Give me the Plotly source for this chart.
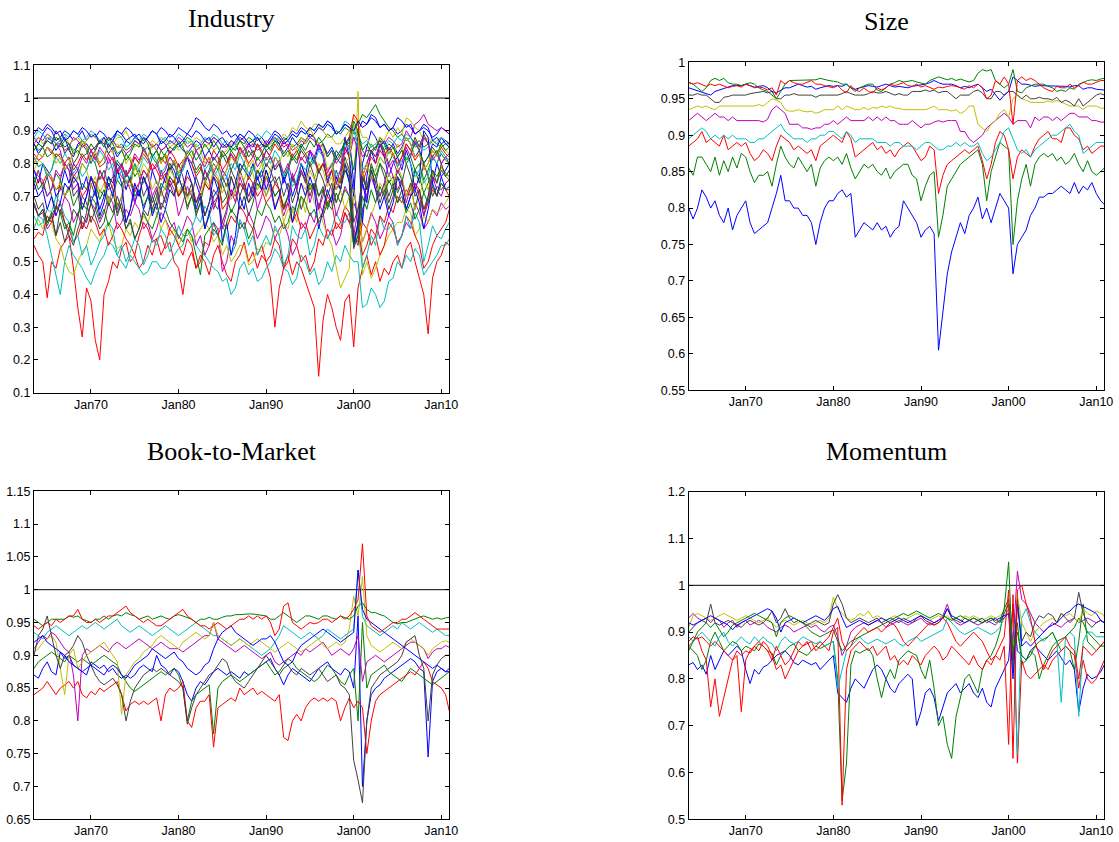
import pandas as pd
import plotly.graph_objects as go

# ---------------- time axis (semi-annual observations, last one Dec 2010) ----------------
half_year_dates = list(pd.date_range("1963-07-01", "2010-07-01", freq="6MS")) + [pd.Timestamp("2010-12-01")]

x_tick_dates = ["1970-01-01", "1980-01-01", "1990-01-01", "2000-01-01", "2010-01-01"]
x_tick_labels = ["Jan70", "Jan80", "Jan90", "Jan00", "Jan10"]

panel_titles = ["Industry", "Size", "Book-to-Market", "Momentum"]

# MATLAB default colour order
blue, green, red, cyan, magenta, yellow, gray = "#0000FF", "#008000", "#FF0000", "#00BFBF", "#BF00BF", "#BFBF00", "#404040"
color_cycle = [blue, green, red, cyan, magenta, yellow, gray]

# ---------------- Size (10 portfolios) ----------------
size_1 = [0.80,
          0.785, 0.80, 0.825, 0.815, 0.80, 0.81, 0.79, 0.78, 0.80, 0.77, 0.79, 0.80,
          0.81, 0.78, 0.765, 0.77, 0.775, 0.78, 0.80, 0.82, 0.845, 0.81, 0.81, 0.80, 0.80, 0.79, 0.79, 0.78, 0.75, 0.78, 0.80, 0.81,
          0.81, 0.82, 0.825, 0.815, 0.82, 0.76, 0.77, 0.78, 0.775, 0.77, 0.78, 0.77, 0.775, 0.76, 0.77, 0.775, 0.81, 0.80, 0.79, 0.78,
          0.76, 0.77, 0.775, 0.765, 0.605, 0.66, 0.71, 0.74, 0.76, 0.78, 0.765, 0.79, 0.80, 0.815, 0.785, 0.80, 0.78, 0.80, 0.82, 0.81,
          0.80, 0.71, 0.75, 0.76, 0.77, 0.79, 0.80, 0.815, 0.815, 0.82, 0.82, 0.825, 0.83, 0.825, 0.82, 0.835, 0.82, 0.83, 0.825, 0.835,
          0.82, 0.81, 0.805]
size_2 = [0.855,
          0.845, 0.87, 0.87, 0.86, 0.85, 0.87, 0.845, 0.865, 0.85, 0.87, 0.855, 0.875,
          0.87, 0.85, 0.835, 0.845, 0.845, 0.85, 0.83, 0.86, 0.885, 0.87, 0.86, 0.855, 0.87, 0.86, 0.85, 0.86, 0.83, 0.855, 0.865, 0.87,
          0.865, 0.87, 0.86, 0.875, 0.855, 0.84, 0.85, 0.86, 0.855, 0.86, 0.85, 0.845, 0.855, 0.84, 0.85, 0.855, 0.86, 0.86, 0.845, 0.84,
          0.81, 0.83, 0.845, 0.85, 0.76, 0.79, 0.83, 0.84, 0.85, 0.86, 0.865, 0.87, 0.875, 0.88, 0.86, 0.81, 0.85, 0.87, 0.89, 0.885,
          0.88, 0.75, 0.81, 0.84, 0.86, 0.83, 0.86, 0.87, 0.875, 0.87, 0.875, 0.865, 0.87, 0.86, 0.865, 0.875, 0.86, 0.85, 0.865, 0.85,
          0.845, 0.85, 0.855]
size_3 = [0.885,
          0.89, 0.895, 0.905, 0.89, 0.895, 0.89, 0.885, 0.90, 0.88, 0.885, 0.89, 0.885,
          0.89, 0.875, 0.865, 0.87, 0.88, 0.875, 0.865, 0.885, 0.90, 0.895, 0.89, 0.88, 0.885, 0.88, 0.875, 0.88, 0.865, 0.885, 0.89, 0.895,
          0.90, 0.895, 0.89, 0.905, 0.895, 0.87, 0.875, 0.88, 0.885, 0.89, 0.88, 0.885, 0.875, 0.88, 0.87, 0.88, 0.885, 0.89, 0.885, 0.875,
          0.865, 0.87, 0.885, 0.88, 0.82, 0.845, 0.86, 0.865, 0.87, 0.875, 0.88, 0.875, 0.88, 0.885, 0.865, 0.84, 0.86, 0.89, 0.905, 0.90,
          0.88, 0.84, 0.87, 0.88, 0.875, 0.87, 0.885, 0.895, 0.90, 0.905, 0.895, 0.895, 0.89, 0.91, 0.91, 0.90, 0.895, 0.88, 0.885, 0.875,
          0.88, 0.885, 0.885]
size_4 = [0.895,
          0.90, 0.905, 0.91, 0.905, 0.895, 0.90, 0.895, 0.90, 0.895, 0.90, 0.895, 0.895,
          0.895, 0.89, 0.89, 0.895, 0.895, 0.90, 0.905, 0.91, 0.915, 0.905, 0.90, 0.895, 0.895, 0.895, 0.89, 0.895, 0.895, 0.90, 0.90, 0.905,
          0.905, 0.90, 0.895, 0.905, 0.90, 0.89, 0.895, 0.895, 0.895, 0.895, 0.89, 0.89, 0.89, 0.885, 0.89, 0.89, 0.885, 0.885, 0.885, 0.88,
          0.885, 0.89, 0.89, 0.885, 0.88, 0.88, 0.885, 0.885, 0.89, 0.885, 0.89, 0.885, 0.885, 0.89, 0.875, 0.865, 0.87, 0.88, 0.89, 0.905,
          0.91, 0.895, 0.88, 0.875, 0.88, 0.87, 0.88, 0.885, 0.89, 0.895, 0.90, 0.90, 0.905, 0.91, 0.915, 0.905, 0.90, 0.875, 0.88, 0.885,
          0.89, 0.89, 0.89]
size_5 = [0.92,
          0.925, 0.93, 0.925, 0.92, 0.925, 0.93, 0.925, 0.925, 0.92, 0.925, 0.92, 0.92,
          0.92, 0.92, 0.92, 0.92, 0.918, 0.922, 0.935, 0.94, 0.935, 0.93, 0.915, 0.915, 0.915, 0.91, 0.91, 0.908, 0.91, 0.91, 0.915, 0.915,
          0.92, 0.915, 0.92, 0.925, 0.92, 0.92, 0.92, 0.92, 0.925, 0.92, 0.925, 0.92, 0.925, 0.92, 0.92, 0.915, 0.915, 0.915, 0.92, 0.915,
          0.91, 0.915, 0.915, 0.918, 0.92, 0.918, 0.92, 0.92, 0.92, 0.905, 0.905, 0.895, 0.89, 0.895, 0.90, 0.91, 0.915, 0.92, 0.925, 0.93,
          0.925, 0.915, 0.92, 0.92, 0.92, 0.91, 0.925, 0.92, 0.925, 0.925, 0.92, 0.925, 0.92, 0.925, 0.93, 0.93, 0.925, 0.925, 0.925, 0.92,
          0.92, 0.918, 0.918]
size_6 = [0.935,
          0.937, 0.94, 0.938, 0.94, 0.937, 0.935, 0.94, 0.94, 0.94, 0.94, 0.94, 0.94,
          0.94, 0.94, 0.94, 0.942, 0.94, 0.945, 0.95, 0.948, 0.945, 0.935, 0.933, 0.933, 0.935, 0.933, 0.932, 0.933, 0.93, 0.932, 0.935, 0.935,
          0.935, 0.94, 0.935, 0.94, 0.938, 0.935, 0.935, 0.938, 0.935, 0.938, 0.937, 0.94, 0.938, 0.94, 0.937, 0.937, 0.935, 0.935, 0.935, 0.935,
          0.935, 0.935, 0.937, 0.94, 0.935, 0.935, 0.935, 0.933, 0.935, 0.93, 0.933, 0.94, 0.94, 0.915, 0.91, 0.905, 0.915, 0.92, 0.93, 0.935,
          0.925, 0.95, 0.955, 0.95, 0.948, 0.945, 0.945, 0.945, 0.945, 0.947, 0.945, 0.948, 0.945, 0.942, 0.94, 0.94, 0.94, 0.935, 0.94, 0.94,
          0.94, 0.937, 0.937]
size_7 = [0.955,
          0.955, 0.957, 0.955, 0.955, 0.95, 0.945, 0.945, 0.952, 0.953, 0.955, 0.955, 0.955,
          0.955, 0.957, 0.958, 0.958, 0.96, 0.958, 0.96, 0.95, 0.95, 0.955, 0.955, 0.957, 0.955, 0.955, 0.955, 0.955, 0.952, 0.955, 0.955, 0.955,
          0.955, 0.955, 0.957, 0.96, 0.957, 0.955, 0.955, 0.955, 0.957, 0.96, 0.958, 0.958, 0.96, 0.958, 0.955, 0.957, 0.955, 0.955, 0.96, 0.96,
          0.96, 0.962, 0.96, 0.962, 0.958, 0.96, 0.96, 0.955, 0.95, 0.955, 0.955, 0.955, 0.96, 0.962, 0.958, 0.95, 0.95, 0.96, 0.96, 0.955,
          0.96, 0.96, 0.955, 0.95, 0.955, 0.95, 0.95, 0.952, 0.95, 0.95, 0.948, 0.952, 0.945, 0.948, 0.945, 0.94, 0.95, 0.94, 0.945, 0.95,
          0.955, 0.957, 0.955]
size_8 = [0.965,
          0.963, 0.962, 0.96, 0.958, 0.955, 0.96, 0.962, 0.963, 0.965, 0.968, 0.968, 0.968,
          0.97, 0.968, 0.966, 0.967, 0.968, 0.965, 0.96, 0.958, 0.962, 0.965, 0.965, 0.967, 0.97, 0.968, 0.966, 0.967, 0.963, 0.965, 0.967, 0.968,
          0.967, 0.968, 0.967, 0.97, 0.965, 0.963, 0.965, 0.966, 0.968, 0.967, 0.966, 0.968, 0.97, 0.968, 0.966, 0.967, 0.966, 0.965, 0.967, 0.968,
          0.968, 0.97, 0.972, 0.975, 0.972, 0.97, 0.97, 0.97, 0.968, 0.965, 0.967, 0.965, 0.968, 0.97, 0.965, 0.96, 0.963, 0.955, 0.948, 0.955,
          0.96, 0.98, 0.975, 0.97, 0.97, 0.968, 0.967, 0.968, 0.968, 0.967, 0.968, 0.967, 0.968, 0.967, 0.966, 0.968, 0.968, 0.963, 0.965, 0.965,
          0.963, 0.962, 0.962]
size_9 = [0.972,
          0.97, 0.965, 0.96, 0.965, 0.975, 0.978, 0.975, 0.978, 0.972, 0.97, 0.97, 0.968,
          0.97, 0.972, 0.97, 0.965, 0.962, 0.96, 0.955, 0.95, 0.96, 0.97, 0.975, 0.975, 0.976, 0.975, 0.975, 0.975, 0.976, 0.978, 0.977, 0.975,
          0.974, 0.973, 0.97, 0.97, 0.965, 0.96, 0.965, 0.968, 0.97, 0.97, 0.962, 0.96, 0.965, 0.97, 0.972, 0.975, 0.973, 0.974, 0.975, 0.973,
          0.972, 0.97, 0.975, 0.978, 0.98, 0.978, 0.976, 0.978, 0.975, 0.977, 0.975, 0.973, 0.975, 0.985, 0.99, 0.988, 0.99, 0.975, 0.97, 0.965,
          0.97, 0.99, 0.96, 0.958, 0.965, 0.967, 0.97, 0.97, 0.97, 0.967, 0.965, 0.96, 0.962, 0.96, 0.965, 0.963, 0.97, 0.972, 0.975, 0.976,
          0.975, 0.977, 0.978]
size_10 = [0.973,
           0.97, 0.972, 0.97, 0.967, 0.97, 0.968, 0.97, 0.968, 0.965, 0.967, 0.968, 0.966,
           0.97, 0.968, 0.965, 0.966, 0.965, 0.962, 0.965, 0.955, 0.975, 0.97, 0.975, 0.972, 0.97, 0.97, 0.972, 0.975, 0.97, 0.97, 0.968, 0.966,
           0.965, 0.968, 0.962, 0.958, 0.968, 0.962, 0.96, 0.965, 0.96, 0.958, 0.965, 0.962, 0.965, 0.97, 0.968, 0.97, 0.972, 0.968, 0.967, 0.97,
           0.966, 0.968, 0.965, 0.963, 0.966, 0.965, 0.967, 0.968, 0.967, 0.965, 0.963, 0.968, 0.965, 0.97, 0.965, 0.95, 0.955, 0.975, 0.97, 0.98,
           0.97, 0.915, 0.975, 0.98, 0.975, 0.978, 0.975, 0.97, 0.965, 0.962, 0.96, 0.967, 0.965, 0.965, 0.97, 0.965, 0.968, 0.973, 0.97, 0.97,
           0.972, 0.975, 0.975]

# ---------------- Book-to-Market (10 portfolios) ----------------
bm_1 = [0.87,
        0.865, 0.88, 0.89, 0.875, 0.87, 0.905, 0.895, 0.90, 0.885, 0.88, 0.875, 0.87,
        0.89, 0.885, 0.88, 0.885, 0.875, 0.88, 0.87, 0.865, 0.87, 0.865, 0.87, 0.88, 0.885, 0.88, 0.875, 0.90, 0.885, 0.88, 0.87, 0.88,
        0.875, 0.86, 0.84, 0.83, 0.85, 0.86, 0.855, 0.865, 0.875, 0.88, 0.875, 0.87, 0.875, 0.87, 0.865, 0.875, 0.87, 0.875, 0.88, 0.885,
        0.89, 0.895, 0.88, 0.87, 0.855, 0.87, 0.88, 0.875, 0.87, 0.865, 0.86, 0.87, 0.88, 0.885, 0.89, 0.88, 0.875, 0.87, 0.88, 0.875,
        0.85, 0.96, 0.70, 0.80, 0.84, 0.85, 0.855, 0.865, 0.87, 0.875, 0.88, 0.885, 0.89, 0.895, 0.89, 0.88, 0.875, 0.745, 0.86, 0.875,
        0.88, 0.875, 0.88]
bm_2 = [0.88,
        0.89, 0.895, 0.90, 0.905, 0.90, 0.895, 0.89, 0.90, 0.895, 0.89, 0.895, 0.89,
        0.885, 0.89, 0.895, 0.90, 0.895, 0.89, 0.885, 0.87, 0.86, 0.85, 0.845, 0.85, 0.855, 0.86, 0.865, 0.87, 0.875, 0.87, 0.875, 0.88,
        0.87, 0.85, 0.80, 0.83, 0.84, 0.845, 0.85, 0.855, 0.78, 0.85, 0.86, 0.865, 0.87, 0.865, 0.86, 0.865, 0.87, 0.875, 0.88, 0.885,
        0.89, 0.88, 0.87, 0.875, 0.885, 0.895, 0.89, 0.88, 0.875, 0.87, 0.865, 0.86, 0.865, 0.875, 0.885, 0.88, 0.87, 0.86, 0.855, 0.87,
        0.88, 0.80, 0.95, 0.85, 0.87, 0.875, 0.88, 0.885, 0.875, 0.87, 0.865, 0.86, 0.87, 0.88, 0.875, 0.87, 0.865, 0.86, 0.855, 0.86,
        0.865, 0.87, 0.875]
bm_3 = [0.84,
        0.845, 0.85, 0.86, 0.85, 0.84, 0.85, 0.855, 0.86, 0.85, 0.86, 0.84, 0.835,
        0.845, 0.84, 0.85, 0.845, 0.85, 0.855, 0.86, 0.84, 0.815, 0.825, 0.83, 0.825, 0.83, 0.825, 0.83, 0.835, 0.80, 0.84, 0.85, 0.845,
        0.85, 0.86, 0.80, 0.79, 0.82, 0.83, 0.83, 0.84, 0.76, 0.82, 0.825, 0.83, 0.835, 0.83, 0.85, 0.84, 0.845, 0.85, 0.84, 0.845,
        0.84, 0.835, 0.83, 0.84, 0.775, 0.77, 0.80, 0.81, 0.80, 0.82, 0.83, 0.835, 0.83, 0.835, 0.83, 0.835, 0.83, 0.80, 0.82, 0.835,
        0.82, 0.83, 0.82, 0.75, 0.80, 0.83, 0.84, 0.845, 0.85, 0.855, 0.86, 0.865, 0.87, 0.875, 0.87, 0.88, 0.89, 0.88, 0.86, 0.855,
        0.85, 0.84, 0.815]
bm_4 = [0.935,
        0.93, 0.925, 0.935, 0.94, 0.945, 0.94, 0.935, 0.93, 0.935, 0.94, 0.945, 0.94,
        0.945, 0.95, 0.945, 0.94, 0.945, 0.95, 0.955, 0.945, 0.94, 0.935, 0.94, 0.945, 0.94, 0.935, 0.93, 0.935, 0.94, 0.945, 0.94, 0.935,
        0.93, 0.935, 0.94, 0.945, 0.95, 0.945, 0.94, 0.935, 0.93, 0.93, 0.925, 0.92, 0.915, 0.92, 0.925, 0.92, 0.915, 0.91, 0.905, 0.90,
        0.905, 0.91, 0.92, 0.93, 0.945, 0.94, 0.935, 0.93, 0.925, 0.93, 0.935, 0.93, 0.925, 0.93, 0.94, 0.935, 0.93, 0.925, 0.93, 0.935,
        0.94, 1.03, 0.96, 0.945, 0.94, 0.935, 0.93, 0.935, 0.94, 0.945, 0.94, 0.95, 0.945, 0.94, 0.945, 0.95, 0.945, 0.94, 0.935, 0.94,
        0.935, 0.93, 0.93]
bm_5 = [0.91,
        0.92, 0.93, 0.925, 0.935, 0.93, 0.92, 0.91, 0.905, 0.87, 0.80, 0.90, 0.91,
        0.905, 0.91, 0.915, 0.91, 0.905, 0.915, 0.92, 0.915, 0.91, 0.915, 0.92, 0.925, 0.92, 0.915, 0.91, 0.915, 0.92, 0.915, 0.91, 0.91,
        0.91, 0.905, 0.91, 0.915, 0.92, 0.925, 0.93, 0.93, 0.95, 0.925, 0.92, 0.915, 0.91, 0.905, 0.91, 0.915, 0.91, 0.905, 0.90, 0.895,
        0.90, 0.905, 0.89, 0.885, 0.89, 0.895, 0.90, 0.905, 0.90, 0.91, 0.905, 0.91, 0.915, 0.92, 0.91, 0.90, 0.905, 0.91, 0.905, 0.90,
        0.91, 0.93, 0.86, 0.89, 0.895, 0.90, 0.895, 0.89, 0.895, 0.90, 0.905, 0.91, 0.915, 0.92, 0.92, 0.915, 0.91, 0.895, 0.905, 0.91,
        0.91, 0.915, 0.912]
bm_6 = [0.905,
        0.91, 0.92, 0.925, 0.93, 0.92, 0.88, 0.84, 0.90, 0.91, 0.88, 0.89, 0.90,
        0.905, 0.91, 0.915, 0.92, 0.91, 0.90, 0.89, 0.81, 0.87, 0.88, 0.89, 0.895, 0.905, 0.91, 0.915, 0.925, 0.93, 0.925, 0.92, 0.915,
        0.91, 0.92, 0.925, 0.93, 0.935, 0.93, 0.925, 0.93, 0.95, 0.93, 0.925, 0.92, 0.915, 0.92, 0.925, 0.92, 0.915, 0.92, 0.925, 0.92,
        0.915, 0.91, 0.905, 0.91, 0.915, 0.92, 0.915, 0.91, 0.905, 0.91, 0.915, 0.92, 0.925, 0.915, 0.91, 0.915, 0.92, 0.915, 0.92, 0.94,
        0.99, 0.96, 1.02, 0.93, 0.915, 0.91, 0.905, 0.91, 0.915, 0.92, 0.915, 0.91, 0.92, 0.925, 0.92, 0.915, 0.91, 0.90, 0.91, 0.915,
        0.92, 0.922, 0.92]
bm_7 = [0.90,
        0.93, 0.94, 0.96, 0.93, 0.90, 0.88, 0.90, 0.905, 0.915, 0.93, 0.92, 0.90,
        0.885, 0.87, 0.86, 0.855, 0.86, 0.865, 0.855, 0.84, 0.80, 0.83, 0.85, 0.86, 0.87, 0.875, 0.88, 0.875, 0.88, 0.875, 0.87, 0.865,
        0.86, 0.85, 0.795, 0.82, 0.84, 0.85, 0.86, 0.87, 0.875, 0.885, 0.895, 0.89, 0.87, 0.86, 0.855, 0.85, 0.86, 0.87, 0.88, 0.89,
        0.90, 0.89, 0.88, 0.87, 0.88, 0.885, 0.875, 0.87, 0.88, 0.875, 0.87, 0.875, 0.88, 0.87, 0.86, 0.865, 0.87, 0.855, 0.85, 0.84,
        0.74, 0.71, 0.675, 0.80, 0.85, 0.86, 0.87, 0.875, 0.88, 0.885, 0.89, 0.90, 0.92, 0.925, 0.93, 0.90, 0.88, 0.80, 0.87, 0.885,
        0.895, 0.90, 0.90]
bm_8 = [0.92,
        0.925, 0.93, 0.92, 0.915, 0.91, 0.905, 0.90, 0.89, 0.885, 0.88, 0.875, 0.88,
        0.885, 0.88, 0.875, 0.87, 0.88, 0.885, 0.88, 0.87, 0.865, 0.875, 0.885, 0.89, 0.895, 0.90, 0.91, 0.905, 0.90, 0.895, 0.90, 0.905,
        0.895, 0.89, 0.88, 0.875, 0.87, 0.875, 0.885, 0.89, 0.91, 0.925, 0.935, 0.94, 0.945, 0.935, 0.93, 0.925, 0.92, 0.915, 0.92, 0.925,
        0.925, 0.93, 0.92, 0.905, 0.89, 0.885, 0.89, 0.905, 0.915, 0.92, 0.925, 0.93, 0.935, 0.94, 0.935, 0.93, 0.925, 0.92, 0.925, 0.93,
        0.935, 1.03, 0.97, 0.955, 0.95, 0.945, 0.94, 0.935, 0.93, 0.925, 0.92, 0.915, 0.91, 0.905, 0.90, 0.895, 0.89, 0.885, 0.88, 0.885,
        0.88, 0.875, 0.875]
bm_9 = [0.955,
        0.95, 0.945, 0.95, 0.955, 0.955, 0.955, 0.955, 0.96, 0.958, 0.96, 0.955, 0.953,
        0.95, 0.955, 0.955, 0.96, 0.955, 0.96, 0.962, 0.96, 0.965, 0.962, 0.96, 0.955, 0.958, 0.96, 0.955, 0.958, 0.96, 0.957, 0.955, 0.96,
        0.962, 0.96, 0.958, 0.955, 0.95, 0.955, 0.955, 0.958, 0.955, 0.955, 0.958, 0.96, 0.96, 0.962, 0.962, 0.963, 0.963, 0.963, 0.962, 0.96,
        0.96, 0.955, 0.955, 0.96, 0.965, 0.96, 0.955, 0.95, 0.955, 0.96, 0.96, 0.958, 0.955, 0.96, 0.96, 0.957, 0.955, 0.96, 0.958, 0.955,
        0.96, 0.975, 0.98, 0.97, 0.965, 0.965, 0.962, 0.96, 0.955, 0.95, 0.948, 0.95, 0.95, 0.953, 0.955, 0.958, 0.96, 0.958, 0.955, 0.957,
        0.955, 0.957, 0.958]
bm_10 = [0.945,
         0.94, 0.945, 0.95, 0.945, 0.955, 0.95, 0.955, 0.96, 0.96, 0.97, 0.955, 0.95,
         0.95, 0.955, 0.95, 0.955, 0.96, 0.96, 0.965, 0.97, 0.975, 0.965, 0.96, 0.955, 0.95, 0.955, 0.95, 0.945, 0.945, 0.95, 0.955, 0.96,
         0.965, 0.97, 0.96, 0.955, 0.95, 0.945, 0.945, 0.94, 0.945, 0.95, 0.945, 0.94, 0.945, 0.95, 0.955, 0.955, 0.96, 0.955, 0.96, 0.955,
         0.96, 0.95, 0.93, 0.94, 0.975, 0.98, 0.95, 0.945, 0.94, 0.945, 0.95, 0.948, 0.95, 0.955, 0.955, 0.95, 0.955, 0.96, 0.955, 0.96,
         0.97, 0.985, 1.07, 0.96, 0.945, 0.94, 0.935, 0.94, 0.945, 0.95, 0.95, 0.955, 0.955, 0.96, 0.965, 0.96, 0.955, 0.95, 0.945, 0.94,
         0.94, 0.94, 0.94]

# ---------------- Momentum (10 portfolios) ----------------
mom_1 = [0.83,
         0.835, 0.82, 0.83, 0.81, 0.85, 0.82, 0.84, 0.86, 0.85, 0.86, 0.87, 0.86,
         0.82, 0.79, 0.82, 0.81, 0.825, 0.83, 0.84, 0.85, 0.855, 0.86, 0.85, 0.835, 0.83, 0.84, 0.835, 0.83, 0.835, 0.82, 0.83, 0.84,
         0.85, 0.77, 0.76, 0.75, 0.78, 0.80, 0.79, 0.78, 0.80, 0.82, 0.83, 0.82, 0.80, 0.78, 0.77, 0.79, 0.80, 0.81, 0.80, 0.70,
         0.73, 0.77, 0.78, 0.76, 0.71, 0.74, 0.77, 0.78, 0.79, 0.77, 0.78, 0.79, 0.77, 0.76, 0.78, 0.75, 0.74, 0.78, 0.80, 0.82,
         0.84, 0.96, 0.86, 0.85, 0.84, 0.86, 0.87, 0.86, 0.85, 0.84, 0.85, 0.86, 0.845, 0.83, 0.84, 0.82, 0.73, 0.78, 0.81, 0.80,
         0.805, 0.815, 0.83]
mom_2 = [0.87,
         0.86, 0.85, 0.82, 0.84, 0.88, 0.90, 0.88, 0.86, 0.87, 0.88, 0.875, 0.86,
         0.87, 0.865, 0.86, 0.875, 0.87, 0.86, 0.855, 0.83, 0.85, 0.86, 0.87, 0.875, 0.86, 0.855, 0.85, 0.86, 0.87, 0.865, 0.87, 0.875,
         0.88, 0.80, 0.54, 0.62, 0.83, 0.86, 0.855, 0.86, 0.865, 0.85, 0.80, 0.76, 0.80, 0.82, 0.80, 0.84, 0.85, 0.86, 0.855, 0.85,
         0.82, 0.80, 0.84, 0.78, 0.70, 0.72, 0.66, 0.63, 0.72, 0.76, 0.80, 0.81, 0.79, 0.77, 0.82, 0.84, 0.85, 0.87, 0.90, 0.95,
         1.05, 0.82, 0.92, 0.83, 0.84, 0.86, 0.85, 0.80, 0.83, 0.85, 0.87, 0.88, 0.86, 0.87, 0.86, 0.82, 0.88, 0.96, 0.88, 0.87,
         0.86, 0.87, 0.88]
mom_3 = [0.87,
         0.88, 0.89, 0.86, 0.84, 0.74, 0.80, 0.72, 0.76, 0.80, 0.84, 0.85, 0.73,
         0.84, 0.86, 0.87, 0.86, 0.88, 0.87, 0.85, 0.82, 0.83, 0.80, 0.82, 0.84, 0.86, 0.87, 0.88, 0.86, 0.87, 0.88, 0.87, 0.86,
         0.90, 0.91, 0.53, 0.82, 0.86, 0.87, 0.88, 0.87, 0.86, 0.87, 0.85, 0.86, 0.87, 0.84, 0.85, 0.83, 0.84, 0.83, 0.85, 0.84,
         0.83, 0.85, 0.86, 0.87, 0.86, 0.84, 0.85, 0.87, 0.86, 0.85, 0.84, 0.83, 0.85, 0.83, 0.82, 0.84, 0.83, 0.85, 0.84, 0.87,
         0.66, 0.98, 0.62, 0.84, 0.81, 0.80, 0.81, 0.82, 0.83, 0.82, 0.84, 0.85, 0.86, 0.87, 0.86, 0.85, 0.78, 0.84, 0.80, 0.79,
         0.80, 0.82, 0.84]
mom_4 = [0.89,
         0.88, 0.89, 0.90, 0.89, 0.88, 0.87, 0.89, 0.90, 0.88, 0.87, 0.88, 0.89,
         0.88, 0.875, 0.89, 0.88, 0.89, 0.88, 0.875, 0.86, 0.88, 0.89, 0.88, 0.875, 0.88, 0.89, 0.885, 0.88, 0.875, 0.88, 0.87, 0.875,
         0.88, 0.78, 0.82, 0.86, 0.87, 0.88, 0.89, 0.88, 0.875, 0.88, 0.885, 0.88, 0.875, 0.88, 0.885, 0.875, 0.87, 0.88, 0.885, 0.89,
         0.88, 0.885, 0.89, 0.895, 0.90, 0.905, 0.93, 0.92, 0.91, 0.90, 0.895, 0.90, 0.905, 0.91, 0.905, 0.90, 0.895, 0.90, 0.91, 0.93,
         0.95, 0.88, 0.64, 0.93, 0.95, 0.92, 0.90, 0.89, 0.88, 0.89, 0.90, 0.88, 0.75, 0.89, 0.90, 0.89, 0.72, 0.88, 0.90, 0.90,
         0.89, 0.89, 0.89]
mom_5 = [0.93,
         0.94, 0.93, 0.925, 0.93, 0.92, 0.93, 0.925, 0.91, 0.92, 0.925, 0.91, 0.92,
         0.925, 0.915, 0.92, 0.925, 0.92, 0.91, 0.905, 0.90, 0.91, 0.915, 0.91, 0.90, 0.905, 0.91, 0.915, 0.91, 0.915, 0.905, 0.90, 0.91,
         0.915, 0.89, 0.85, 0.87, 0.90, 0.91, 0.915, 0.92, 0.915, 0.92, 0.925, 0.92, 0.91, 0.915, 0.92, 0.925, 0.92, 0.915, 0.92, 0.925,
         0.93, 0.92, 0.915, 0.92, 0.925, 0.935, 0.96, 0.93, 0.92, 0.915, 0.92, 0.925, 0.92, 0.915, 0.92, 0.925, 0.92, 0.915, 0.925, 0.93,
         0.94, 0.88, 1.03, 0.97, 0.96, 0.94, 0.92, 0.91, 0.90, 0.91, 0.92, 0.915, 0.91, 0.92, 0.925, 0.93, 0.92, 0.925, 0.93, 0.925,
         0.92, 0.925, 0.92]
mom_6 = [0.91,
         0.935, 0.94, 0.935, 0.93, 0.925, 0.93, 0.935, 0.94, 0.935, 0.93, 0.925, 0.93,
         0.935, 0.93, 0.925, 0.92, 0.925, 0.93, 0.92, 0.91, 0.92, 0.925, 0.92, 0.915, 0.92, 0.925, 0.92, 0.915, 0.92, 0.925, 0.92, 0.93,
         0.975, 0.95, 0.94, 0.93, 0.925, 0.93, 0.94, 0.935, 0.945, 0.93, 0.935, 0.93, 0.925, 0.93, 0.935, 0.93, 0.925, 0.93, 0.935, 0.94,
         0.935, 0.93, 0.925, 0.93, 0.935, 0.93, 0.935, 0.925, 0.93, 0.925, 0.935, 0.93, 0.935, 0.93, 0.925, 0.93, 0.935, 0.93, 0.935, 0.945,
         0.96, 0.85, 0.98, 0.92, 0.90, 0.88, 0.90, 0.91, 0.92, 0.925, 0.93, 0.92, 0.94, 0.935, 0.94, 0.93, 0.92, 0.95, 0.94, 0.935,
         0.945, 0.94, 0.935]
mom_7 = [0.90,
         0.91, 0.92, 0.925, 0.92, 0.96, 0.92, 0.915, 0.92, 0.925, 0.92, 0.915, 0.91,
         0.92, 0.925, 0.92, 0.915, 0.92, 0.93, 0.945, 0.92, 0.93, 0.95, 0.93, 0.92, 0.925, 0.92, 0.915, 0.92, 0.925, 0.92, 0.915, 0.92,
         0.96, 0.98, 0.96, 0.93, 0.92, 0.925, 0.93, 0.925, 0.92, 0.925, 0.93, 0.92, 0.925, 0.93, 0.925, 0.92, 0.93, 0.925, 0.92, 0.93,
         0.935, 0.925, 0.92, 0.915, 0.92, 0.93, 0.95, 0.93, 0.925, 0.92, 0.93, 0.925, 0.92, 0.925, 0.93, 0.92, 0.925, 0.93, 0.92, 0.94,
         0.96, 0.84, 0.97, 0.88, 0.90, 0.89, 0.92, 0.935, 0.93, 0.94, 0.935, 0.92, 0.94, 0.93, 0.92, 0.93, 0.985, 0.94, 0.92, 0.91,
         0.92, 0.925, 0.92]
mom_8 = [0.92,
         0.915, 0.92, 0.925, 0.93, 0.935, 0.93, 0.925, 0.92, 0.915, 0.905, 0.915, 0.92,
         0.925, 0.93, 0.935, 0.94, 0.945, 0.95, 0.945, 0.93, 0.90, 0.92, 0.925, 0.93, 0.925, 0.92, 0.925, 0.93, 0.935, 0.93, 0.925, 0.935,
         0.95, 0.955, 0.93, 0.91, 0.915, 0.92, 0.925, 0.92, 0.915, 0.92, 0.925, 0.93, 0.925, 0.92, 0.925, 0.93, 0.925, 0.92, 0.925, 0.93,
         0.935, 0.93, 0.925, 0.92, 0.925, 0.93, 0.95, 0.935, 0.93, 0.925, 0.92, 0.925, 0.93, 0.925, 0.92, 0.925, 0.93, 0.925, 0.93, 0.935,
         0.94, 0.80, 0.96, 0.87, 0.88, 0.87, 0.88, 0.89, 0.90, 0.91, 0.915, 0.92, 0.93, 0.94, 0.945, 0.955, 0.96, 0.955, 0.95, 0.945,
         0.94, 0.925, 0.92]
mom_9 = [0.86,
         0.88, 0.90, 0.91, 0.92, 0.91, 0.92, 0.905, 0.89, 0.90, 0.915, 0.92, 0.925,
         0.93, 0.935, 0.94, 0.935, 0.93, 0.925, 0.92, 0.89, 0.92, 0.93, 0.935, 0.93, 0.925, 0.92, 0.91, 0.90, 0.895, 0.89, 0.895, 0.90,
         0.905, 0.88, 0.86, 0.87, 0.88, 0.885, 0.89, 0.895, 0.90, 0.905, 0.91, 0.915, 0.92, 0.925, 0.93, 0.935, 0.94, 0.935, 0.94, 0.945,
         0.94, 0.935, 0.93, 0.935, 0.94, 0.935, 0.93, 0.925, 0.93, 0.935, 0.93, 0.925, 0.93, 0.925, 0.92, 0.925, 0.93, 0.92, 0.925, 0.95,
         0.97, 0.86, 0.90, 0.85, 0.84, 0.85, 0.87, 0.88, 0.885, 0.89, 0.90, 0.88, 0.885, 0.89, 0.90, 0.91, 0.93, 0.92, 0.90, 0.89,
         0.88, 0.87, 0.87]
mom_10 = [0.88,
          0.89, 0.885, 0.89, 0.88, 0.87, 0.88, 0.87, 0.86, 0.85, 0.84, 0.86, 0.85,
          0.86, 0.855, 0.87, 0.88, 0.87, 0.86, 0.84, 0.87, 0.85, 0.83, 0.84, 0.86, 0.88, 0.87, 0.875, 0.88, 0.86, 0.87, 0.88, 0.89,
          0.91, 0.93, 0.88, 0.86, 0.87, 0.89, 0.90, 0.91, 0.90, 0.905, 0.91, 0.90, 0.91, 0.92, 0.915, 0.90, 0.88, 0.87, 0.88, 0.89,
          0.90, 0.91, 0.92, 0.915, 0.92, 0.93, 0.92, 0.90, 0.88, 0.87, 0.88, 0.89, 0.90, 0.89, 0.88, 0.86, 0.84, 0.85, 0.87, 0.89,
          0.99, 0.63, 0.99, 1.0, 0.96, 0.93, 0.88, 0.85, 0.82, 0.84, 0.86, 0.87, 0.88, 0.89, 0.87, 0.86, 0.80, 0.87, 0.86, 0.85,
          0.86, 0.87, 0.88]

# ---------------- Industry (30 portfolios) ----------------
# rows: 1963.5-1969.5 (13), 1970s (20), 1980s (20), 1990s (20), 2000s (20), 2010-end (3)
ind_blue_1 = [0.88, 0.86, 0.89, 0.91, 0.90, 0.87, 0.88, 0.90, 0.89, 0.87, 0.88, 0.90, 0.87,
              0.89, 0.88, 0.90, 0.89, 0.87, 0.88, 0.90, 0.89, 0.91, 0.90, 0.88, 0.89, 0.87, 0.88, 0.90, 0.89, 0.91, 0.90, 0.88, 0.89,
              0.91, 0.90, 0.89, 0.91, 0.94, 0.93, 0.91, 0.90, 0.92, 0.91, 0.89, 0.90, 0.88, 0.89, 0.87, 0.88, 0.90, 0.89, 0.87, 0.88,
              0.86, 0.88, 0.90, 0.89, 0.87, 0.88, 0.90, 0.89, 0.91, 0.90, 0.88, 0.89, 0.91, 0.90, 0.92, 0.91, 0.89, 0.90, 0.92, 0.91,
              0.89, 0.90, 0.93, 0.92, 0.94, 0.93, 0.91, 0.92, 0.90, 0.91, 0.89, 0.90, 0.92, 0.91, 0.89, 0.90, 0.91, 0.90, 0.88, 0.89,
              0.91, 0.90, 0.89]
ind_blue_2 = [0.86, 0.83, 0.85, 0.88, 0.87, 0.84, 0.86, 0.88, 0.84, 0.82, 0.86, 0.87, 0.85,
              0.82, 0.84, 0.87, 0.86, 0.83, 0.85, 0.82, 0.84, 0.87, 0.86, 0.88, 0.87, 0.84, 0.85, 0.82, 0.84, 0.87, 0.86, 0.83, 0.85,
              0.86, 0.84, 0.83, 0.85, 0.87, 0.86, 0.82, 0.84, 0.81, 0.83, 0.86, 0.85, 0.87, 0.86, 0.83, 0.84, 0.86, 0.85, 0.88, 0.86,
              0.85, 0.87, 0.88, 0.86, 0.83, 0.85, 0.88, 0.86, 0.85, 0.87, 0.89, 0.88, 0.84, 0.86, 0.83, 0.85, 0.82, 0.84, 0.86, 0.88,
              0.74, 0.60, 0.80, 0.85, 0.90, 0.88, 0.85, 0.87, 0.84, 0.86, 0.83, 0.85, 0.88, 0.86, 0.82, 0.84, 0.80, 0.82, 0.86, 0.85,
              0.88, 0.86, 0.85]
ind_blue_3 = [0.78, 0.74, 0.80, 0.78, 0.76, 0.70, 0.72, 0.78, 0.74, 0.80, 0.78, 0.72, 0.76,
              0.68, 0.72, 0.66, 0.70, 0.76, 0.74, 0.80, 0.78, 0.72, 0.76, 0.68, 0.72, 0.66, 0.70, 0.78, 0.74, 0.72, 0.76, 0.80, 0.78,
              0.74, 0.80, 0.82, 0.78, 0.74, 0.70, 0.60, 0.65, 0.70, 0.72, 0.78, 0.76, 0.70, 0.74, 0.80, 0.78, 0.76, 0.80, 0.75, 0.78,
              0.72, 0.76, 0.82, 0.80, 0.74, 0.78, 0.70, 0.74, 0.80, 0.76, 0.84, 0.80, 0.86, 0.82, 0.74, 0.78, 0.72, 0.76, 0.88, 0.82,
              0.70, 0.90, 0.62, 0.76, 0.84, 0.80, 0.86, 0.82, 0.76, 0.80, 0.82, 0.78, 0.84, 0.80, 0.72, 0.76, 0.90, 0.88, 0.74, 0.80,
              0.76, 0.78, 0.80]
ind_blue_4 = [0.74, 0.70, 0.72, 0.66, 0.70, 0.64, 0.68, 0.74, 0.72, 0.76, 0.74, 0.66, 0.70,
              0.76, 0.72, 0.64, 0.68, 0.74, 0.70, 0.78, 0.74, 0.62, 0.66, 0.74, 0.70, 0.76, 0.72, 0.64, 0.68, 0.62, 0.66, 0.72, 0.70,
              0.76, 0.72, 0.78, 0.74, 0.66, 0.70, 0.64, 0.68, 0.76, 0.72, 0.56, 0.62, 0.52, 0.58, 0.70, 0.66, 0.74, 0.70, 0.76, 0.72,
              0.78, 0.74, 0.66, 0.70, 0.76, 0.72, 0.62, 0.68, 0.74, 0.70, 0.76, 0.72, 0.60, 0.66, 0.72, 0.68, 0.76, 0.72, 0.80, 0.74,
              0.55, 0.62, 0.74, 0.68, 0.78, 0.72, 0.66, 0.70, 0.64, 0.68, 0.76, 0.72, 0.66, 0.70, 0.72, 0.68, 0.60, 0.66, 0.74, 0.70,
              0.76, 0.72, 0.73]
ind_blue_5 = [0.89, 0.91, 0.90, 0.92, 0.91, 0.89, 0.90, 0.87, 0.88, 0.90, 0.89, 0.91, 0.90,
              0.88, 0.89, 0.86, 0.88, 0.85, 0.87, 0.90, 0.89, 0.87, 0.88, 0.89, 0.87, 0.86, 0.88, 0.90, 0.89, 0.86, 0.87, 0.89, 0.88,
              0.86, 0.87, 0.89, 0.88, 0.90, 0.89, 0.87, 0.88, 0.85, 0.87, 0.88, 0.86, 0.85, 0.87, 0.89, 0.88, 0.86, 0.87, 0.88, 0.86,
              0.85, 0.87, 0.89, 0.88, 0.86, 0.87, 0.89, 0.88, 0.90, 0.89, 0.91, 0.90, 0.92, 0.91, 0.93, 0.92, 0.89, 0.90, 0.92, 0.91,
              0.90, 0.93, 0.91, 0.92, 0.95, 0.94, 0.91, 0.92, 0.90, 0.91, 0.94, 0.93, 0.91, 0.92, 0.89, 0.90, 0.92, 0.91, 0.87, 0.88,
              0.86, 0.87, 0.86]
ind_green_1 = [0.86, 0.84, 0.85, 0.87, 0.86, 0.88, 0.87, 0.85, 0.86, 0.84, 0.85, 0.87, 0.86,
               0.84, 0.85, 0.87, 0.86, 0.88, 0.87, 0.85, 0.86, 0.84, 0.85, 0.87, 0.86, 0.88, 0.87, 0.85, 0.86, 0.84, 0.85, 0.87, 0.86,
               0.85, 0.86, 0.88, 0.87, 0.84, 0.85, 0.87, 0.86, 0.88, 0.87, 0.85, 0.86, 0.84, 0.85, 0.87, 0.86, 0.88, 0.87, 0.85, 0.86,
               0.84, 0.85, 0.87, 0.86, 0.88, 0.87, 0.85, 0.86, 0.88, 0.87, 0.89, 0.88, 0.86, 0.87, 0.89, 0.88, 0.90, 0.89, 0.91, 0.90,
               0.90, 0.92, 0.95, 0.94, 0.96, 0.98, 0.95, 0.93, 0.91, 0.90, 0.88, 0.89, 0.87, 0.88, 0.86, 0.87, 0.85, 0.86, 0.87, 0.86,
               0.85, 0.86, 0.86]
ind_green_2 = [0.82, 0.79, 0.80, 0.76, 0.78, 0.83, 0.82, 0.78, 0.80, 0.74, 0.76, 0.80, 0.78,
               0.82, 0.80, 0.75, 0.78, 0.73, 0.76, 0.81, 0.79, 0.83, 0.81, 0.76, 0.78, 0.74, 0.77, 0.82, 0.80, 0.84, 0.82, 0.78, 0.80,
               0.76, 0.78, 0.82, 0.80, 0.77, 0.79, 0.74, 0.77, 0.80, 0.78, 0.83, 0.80, 0.84, 0.82, 0.78, 0.80, 0.75, 0.78, 0.82, 0.80,
               0.84, 0.82, 0.78, 0.80, 0.76, 0.79, 0.83, 0.81, 0.85, 0.83, 0.80, 0.82, 0.77, 0.80, 0.78, 0.79, 0.84, 0.82, 0.87, 0.85,
               0.78, 0.88, 0.84, 0.82, 0.86, 0.84, 0.88, 0.86, 0.83, 0.85, 0.82, 0.84, 0.80, 0.82, 0.78, 0.80, 0.75, 0.78, 0.82, 0.80,
               0.83, 0.81, 0.80]
ind_green_3 = [0.76, 0.72, 0.74, 0.70, 0.72, 0.77, 0.75, 0.70, 0.73, 0.67, 0.70, 0.74, 0.72,
               0.76, 0.74, 0.69, 0.72, 0.67, 0.70, 0.75, 0.73, 0.77, 0.75, 0.70, 0.72, 0.67, 0.70, 0.65, 0.68, 0.74, 0.72, 0.76, 0.74,
               0.70, 0.72, 0.67, 0.70, 0.65, 0.68, 0.74, 0.72, 0.76, 0.74, 0.68, 0.70, 0.65, 0.68, 0.74, 0.72, 0.68, 0.70, 0.74, 0.72,
               0.76, 0.74, 0.70, 0.72, 0.67, 0.70, 0.75, 0.73, 0.77, 0.75, 0.72, 0.74, 0.70, 0.72, 0.67, 0.70, 0.76, 0.74, 0.78, 0.76,
               0.56, 0.62, 0.76, 0.72, 0.79, 0.76, 0.80, 0.78, 0.74, 0.76, 0.71, 0.74, 0.70, 0.72, 0.78, 0.76, 0.71, 0.74, 0.78, 0.76,
               0.79, 0.77, 0.76]
ind_green_4 = [0.68, 0.64, 0.66, 0.61, 0.64, 0.67, 0.65, 0.60, 0.62, 0.58, 0.64, 0.68, 0.66,
               0.70, 0.68, 0.63, 0.66, 0.61, 0.64, 0.68, 0.66, 0.60, 0.62, 0.57, 0.60, 0.65, 0.62, 0.60, 0.64, 0.68, 0.66, 0.62, 0.60,
               0.58, 0.56, 0.60, 0.58, 0.52, 0.46, 0.58, 0.60, 0.62, 0.58, 0.55, 0.62, 0.66, 0.64, 0.60, 0.62, 0.57, 0.60, 0.66, 0.64,
               0.68, 0.66, 0.62, 0.64, 0.60, 0.62, 0.67, 0.65, 0.70, 0.68, 0.64, 0.66, 0.62, 0.64, 0.68, 0.66, 0.71, 0.68, 0.72, 0.70,
               0.55, 0.58, 0.70, 0.66, 0.72, 0.68, 0.73, 0.70, 0.75, 0.72, 0.68, 0.70, 0.65, 0.68, 0.63, 0.66, 0.71, 0.68, 0.73, 0.70,
               0.74, 0.72, 0.72]
ind_green_5 = [0.84, 0.86, 0.85, 0.82, 0.83, 0.86, 0.85, 0.87, 0.86, 0.83, 0.84, 0.82, 0.83,
               0.86, 0.84, 0.87, 0.85, 0.88, 0.86, 0.83, 0.84, 0.81, 0.83, 0.86, 0.85, 0.88, 0.86, 0.82, 0.84, 0.81, 0.83, 0.85, 0.84,
               0.87, 0.85, 0.82, 0.84, 0.81, 0.83, 0.86, 0.84, 0.87, 0.85, 0.82, 0.83, 0.85, 0.84, 0.87, 0.85, 0.82, 0.84, 0.81, 0.83,
               0.86, 0.84, 0.87, 0.85, 0.82, 0.84, 0.81, 0.83, 0.86, 0.84, 0.87, 0.85, 0.88, 0.86, 0.82, 0.84, 0.81, 0.83, 0.87, 0.86,
               0.93, 0.90, 0.84, 0.86, 0.83, 0.85, 0.87, 0.84, 0.86, 0.85, 0.82, 0.84, 0.81, 0.83, 0.86, 0.84, 0.80, 0.82, 0.85, 0.83,
               0.86, 0.84, 0.85]
ind_red_1 = [0.55, 0.52, 0.50, 0.39, 0.50, 0.48, 0.54, 0.56, 0.58, 0.48, 0.36, 0.27, 0.42,
             0.38, 0.26, 0.20, 0.40, 0.44, 0.50, 0.48, 0.54, 0.56, 0.50, 0.52, 0.48, 0.50, 0.55, 0.52, 0.57, 0.58, 0.54, 0.56, 0.50,
             0.48, 0.40, 0.50, 0.53, 0.48, 0.52, 0.50, 0.46, 0.52, 0.55, 0.50, 0.46, 0.44, 0.50, 0.52, 0.56, 0.50, 0.53, 0.48, 0.52,
             0.50, 0.45, 0.30, 0.42, 0.48, 0.52, 0.46, 0.50, 0.48, 0.44, 0.40, 0.36, 0.15, 0.32, 0.40, 0.36, 0.30, 0.26, 0.38, 0.40,
             0.24, 0.42, 0.48, 0.52, 0.46, 0.50, 0.44, 0.48, 0.46, 0.50, 0.52, 0.48, 0.54, 0.56, 0.50, 0.45, 0.40, 0.28, 0.45, 0.50,
             0.52, 0.56, 0.55]
ind_red_2 = [0.57, 0.59, 0.58, 0.64, 0.62, 0.66, 0.68, 0.62, 0.60, 0.56, 0.58, 0.62, 0.60,
             0.64, 0.62, 0.58, 0.60, 0.55, 0.58, 0.62, 0.60, 0.57, 0.55, 0.52, 0.58, 0.62, 0.60, 0.56, 0.57, 0.52, 0.55, 0.60, 0.58,
             0.55, 0.52, 0.57, 0.55, 0.48, 0.50, 0.56, 0.55, 0.60, 0.58, 0.62, 0.60, 0.64, 0.62, 0.67, 0.65, 0.62, 0.60, 0.52, 0.55,
             0.50, 0.52, 0.57, 0.55, 0.48, 0.50, 0.57, 0.55, 0.50, 0.52, 0.47, 0.50, 0.57, 0.55, 0.60, 0.58, 0.62, 0.60, 0.65, 0.62,
             0.58, 0.55, 0.62, 0.60, 0.55, 0.58, 0.52, 0.55, 0.62, 0.60, 0.56, 0.58, 0.64, 0.62, 0.58, 0.55, 0.48, 0.50, 0.55, 0.58,
             0.60, 0.62, 0.66]
ind_red_3 = [0.72, 0.75, 0.74, 0.77, 0.75, 0.72, 0.73, 0.70, 0.72, 0.76, 0.74, 0.70, 0.72,
             0.75, 0.74, 0.76, 0.75, 0.72, 0.73, 0.78, 0.76, 0.74, 0.75, 0.72, 0.74, 0.78, 0.76, 0.80, 0.78, 0.75, 0.77, 0.73, 0.75,
             0.70, 0.72, 0.76, 0.74, 0.68, 0.70, 0.74, 0.72, 0.77, 0.75, 0.66, 0.68, 0.72, 0.70, 0.74, 0.72, 0.76, 0.74, 0.70, 0.72,
             0.68, 0.70, 0.74, 0.72, 0.66, 0.68, 0.62, 0.65, 0.60, 0.62, 0.57, 0.60, 0.63, 0.65, 0.70, 0.68, 0.60, 0.62, 0.67, 0.65,
             0.58, 0.60, 0.52, 0.55, 0.60, 0.58, 0.64, 0.62, 0.67, 0.65, 0.70, 0.68, 0.72, 0.70, 0.74, 0.72, 0.66, 0.68, 0.72, 0.70,
             0.74, 0.72, 0.70]
ind_red_4 = [0.83, 0.81, 0.82, 0.85, 0.84, 0.82, 0.83, 0.80, 0.82, 0.78, 0.80, 0.83, 0.81,
             0.84, 0.82, 0.79, 0.80, 0.83, 0.81, 0.77, 0.79, 0.76, 0.78, 0.82, 0.80, 0.83, 0.81, 0.78, 0.79, 0.82, 0.80, 0.84, 0.82,
             0.79, 0.81, 0.82, 0.80, 0.76, 0.78, 0.82, 0.80, 0.84, 0.82, 0.78, 0.80, 0.83, 0.81, 0.85, 0.83, 0.80, 0.82, 0.86, 0.84,
             0.81, 0.83, 0.86, 0.84, 0.87, 0.85, 0.82, 0.84, 0.81, 0.83, 0.84, 0.82, 0.78, 0.80, 0.76, 0.78, 0.72, 0.75, 0.84, 0.88,
             0.95, 0.93, 0.74, 0.78, 0.82, 0.80, 0.84, 0.82, 0.85, 0.83, 0.80, 0.82, 0.86, 0.84, 0.81, 0.83, 0.78, 0.80, 0.84, 0.82,
             0.85, 0.83, 0.82]
ind_cyan_1 = [0.60, 0.64, 0.63, 0.58, 0.52, 0.46, 0.40, 0.50, 0.55, 0.52, 0.50, 0.48, 0.45,
              0.43, 0.47, 0.50, 0.52, 0.56, 0.55, 0.52, 0.50, 0.48, 0.52, 0.50, 0.48, 0.46, 0.47, 0.50, 0.50, 0.48, 0.48, 0.50, 0.52,
              0.54, 0.55, 0.60, 0.58, 0.55, 0.53, 0.52, 0.50, 0.48, 0.47, 0.44, 0.45, 0.40, 0.42, 0.48, 0.50, 0.46, 0.48, 0.44, 0.45,
              0.48, 0.50, 0.54, 0.52, 0.48, 0.47, 0.43, 0.45, 0.52, 0.50, 0.46, 0.48, 0.43, 0.45, 0.50, 0.47, 0.52, 0.50, 0.55, 0.52,
              0.50, 0.50, 0.36, 0.37, 0.42, 0.40, 0.36, 0.38, 0.44, 0.45, 0.50, 0.48, 0.52, 0.50, 0.54, 0.52, 0.46, 0.48, 0.50, 0.52,
              0.55, 0.55, 0.57]
ind_cyan_2 = [0.64, 0.61, 0.62, 0.66, 0.65, 0.70, 0.68, 0.64, 0.62, 0.56, 0.58, 0.52, 0.55,
              0.49, 0.52, 0.56, 0.58, 0.62, 0.60, 0.52, 0.55, 0.50, 0.53, 0.57, 0.55, 0.49, 0.52, 0.57, 0.55, 0.60, 0.58, 0.53, 0.56,
              0.61, 0.58, 0.58, 0.60, 0.64, 0.62, 0.67, 0.65, 0.58, 0.60, 0.61, 0.58, 0.52, 0.55, 0.63, 0.60, 0.55, 0.58, 0.52, 0.55,
              0.58, 0.55, 0.61, 0.58, 0.49, 0.52, 0.61, 0.58, 0.57, 0.60, 0.52, 0.55, 0.61, 0.58, 0.57, 0.60, 0.65, 0.62, 0.62, 0.65,
              0.55, 0.60, 0.48, 0.52, 0.58, 0.55, 0.64, 0.60, 0.60, 0.62, 0.55, 0.58, 0.64, 0.60, 0.65, 0.62, 0.50, 0.55, 0.61, 0.58,
              0.57, 0.60, 0.62]
ind_cyan_3 = [0.88, 0.90, 0.89, 0.87, 0.88, 0.86, 0.87, 0.89, 0.88, 0.90, 0.89, 0.87, 0.88,
              0.90, 0.89, 0.87, 0.88, 0.86, 0.87, 0.89, 0.88, 0.85, 0.86, 0.88, 0.87, 0.89, 0.88, 0.90, 0.89, 0.87, 0.88, 0.86, 0.87,
              0.89, 0.88, 0.86, 0.87, 0.85, 0.86, 0.88, 0.87, 0.89, 0.88, 0.86, 0.87, 0.85, 0.86, 0.89, 0.88, 0.86, 0.87, 0.89, 0.88,
              0.90, 0.89, 0.87, 0.88, 0.86, 0.87, 0.89, 0.88, 0.90, 0.89, 0.91, 0.90, 0.92, 0.91, 0.93, 0.92, 0.89, 0.90, 0.93, 0.92,
              0.90, 0.88, 0.86, 0.87, 0.85, 0.86, 0.84, 0.85, 0.87, 0.86, 0.88, 0.87, 0.89, 0.88, 0.85, 0.86, 0.84, 0.85, 0.87, 0.86,
              0.88, 0.87, 0.86]
ind_cyan_4 = [0.82, 0.79, 0.80, 0.76, 0.78, 0.82, 0.80, 0.83, 0.81, 0.77, 0.79, 0.76, 0.78,
              0.82, 0.80, 0.84, 0.82, 0.78, 0.80, 0.75, 0.78, 0.74, 0.76, 0.80, 0.78, 0.82, 0.80, 0.83, 0.81, 0.77, 0.79, 0.82, 0.80,
              0.76, 0.78, 0.82, 0.80, 0.84, 0.82, 0.78, 0.80, 0.76, 0.78, 0.74, 0.76, 0.80, 0.78, 0.83, 0.80, 0.77, 0.79, 0.76, 0.78,
              0.82, 0.80, 0.84, 0.82, 0.76, 0.78, 0.73, 0.75, 0.80, 0.78, 0.82, 0.80, 0.84, 0.82, 0.78, 0.80, 0.76, 0.78, 0.86, 0.84,
              0.90, 0.86, 0.78, 0.80, 0.76, 0.78, 0.82, 0.80, 0.84, 0.82, 0.79, 0.81, 0.82, 0.80, 0.76, 0.78, 0.74, 0.76, 0.82, 0.80,
              0.84, 0.82, 0.81]
ind_magenta_1 = [0.67, 0.64, 0.65, 0.60, 0.62, 0.67, 0.65, 0.70, 0.68, 0.62, 0.65, 0.60, 0.63,
                 0.68, 0.66, 0.62, 0.65, 0.70, 0.68, 0.60, 0.62, 0.66, 0.64, 0.68, 0.66, 0.60, 0.62, 0.57, 0.60, 0.65, 0.63, 0.60, 0.62,
                 0.57, 0.60, 0.64, 0.62, 0.55, 0.58, 0.52, 0.55, 0.62, 0.60, 0.47, 0.50, 0.58, 0.55, 0.62, 0.60, 0.65, 0.62, 0.57, 0.60,
                 0.64, 0.62, 0.57, 0.60, 0.62, 0.58, 0.52, 0.55, 0.62, 0.60, 0.65, 0.62, 0.68, 0.65, 0.57, 0.60, 0.55, 0.58, 0.65, 0.62,
                 0.68, 0.65, 0.56, 0.60, 0.65, 0.62, 0.57, 0.60, 0.64, 0.62, 0.55, 0.58, 0.62, 0.60, 0.68, 0.65, 0.60, 0.62, 0.66, 0.64,
                 0.68, 0.66, 0.67]
ind_magenta_2 = [0.86, 0.88, 0.87, 0.89, 0.88, 0.86, 0.86, 0.84, 0.85, 0.88, 0.87, 0.85, 0.86,
                 0.84, 0.85, 0.87, 0.86, 0.88, 0.87, 0.85, 0.85, 0.83, 0.84, 0.87, 0.86, 0.88, 0.87, 0.85, 0.86, 0.84, 0.85, 0.87, 0.86,
                 0.88, 0.87, 0.85, 0.86, 0.84, 0.85, 0.87, 0.86, 0.88, 0.87, 0.85, 0.85, 0.87, 0.86, 0.88, 0.87, 0.85, 0.86, 0.84, 0.85,
                 0.87, 0.86, 0.88, 0.87, 0.85, 0.86, 0.84, 0.85, 0.87, 0.86, 0.88, 0.87, 0.85, 0.86, 0.82, 0.84, 0.80, 0.82, 0.83, 0.85,
                 0.88, 0.87, 0.82, 0.84, 0.84, 0.85, 0.87, 0.86, 0.88, 0.87, 0.85, 0.86, 0.90, 0.88, 0.92, 0.93, 0.95, 0.92, 0.91, 0.90,
                 0.91, 0.90, 0.89]
ind_magenta_3 = [0.78, 0.76, 0.75, 0.70, 0.72, 0.78, 0.76, 0.80, 0.78, 0.72, 0.74, 0.66, 0.70,
                 0.76, 0.72, 0.78, 0.75, 0.82, 0.78, 0.66, 0.70, 0.75, 0.72, 0.68, 0.74, 0.78, 0.76, 0.70, 0.73, 0.66, 0.70, 0.75, 0.72,
                 0.64, 0.68, 0.73, 0.70, 0.68, 0.72, 0.78, 0.75, 0.66, 0.70, 0.60, 0.65, 0.72, 0.68, 0.76, 0.72, 0.70, 0.74, 0.66, 0.70,
                 0.76, 0.72, 0.66, 0.70, 0.64, 0.68, 0.76, 0.72, 0.78, 0.75, 0.68, 0.73, 0.66, 0.70, 0.75, 0.72, 0.64, 0.68, 0.73, 0.70,
                 0.58, 0.66, 0.74, 0.70, 0.76, 0.72, 0.70, 0.74, 0.80, 0.76, 0.72, 0.75, 0.68, 0.73, 0.74, 0.70, 0.64, 0.68, 0.76, 0.72,
                 0.70, 0.74, 0.75]
ind_magenta_4 = [0.80, 0.83, 0.82, 0.85, 0.83, 0.86, 0.84, 0.78, 0.80, 0.76, 0.78, 0.82, 0.80,
                 0.84, 0.81, 0.85, 0.83, 0.80, 0.82, 0.77, 0.80, 0.76, 0.79, 0.83, 0.81, 0.84, 0.82, 0.78, 0.80, 0.76, 0.78, 0.82, 0.80,
                 0.77, 0.79, 0.82, 0.80, 0.84, 0.81, 0.79, 0.82, 0.77, 0.80, 0.76, 0.78, 0.83, 0.80, 0.85, 0.82, 0.86, 0.83, 0.79, 0.81,
                 0.84, 0.82, 0.79, 0.81, 0.77, 0.80, 0.75, 0.78, 0.82, 0.80, 0.84, 0.82, 0.86, 0.83, 0.77, 0.80, 0.74, 0.78, 0.85, 0.82,
                 0.88, 0.84, 0.76, 0.80, 0.84, 0.82, 0.86, 0.83, 0.79, 0.81, 0.77, 0.80, 0.85, 0.82, 0.87, 0.84, 0.88, 0.86, 0.81, 0.83,
                 0.80, 0.82, 0.83]
ind_yellow_1 = [0.61, 0.63, 0.60, 0.64, 0.62, 0.57, 0.55, 0.50, 0.47, 0.46, 0.50, 0.53, 0.55,
                0.60, 0.58, 0.56, 0.60, 0.62, 0.57, 0.54, 0.55, 0.60, 0.58, 0.62, 0.60, 0.64, 0.62, 0.66, 0.65, 0.60, 0.63, 0.58, 0.60,
                0.55, 0.58, 0.60, 0.56, 0.58, 0.60, 0.62, 0.60, 0.56, 0.58, 0.52, 0.55, 0.50, 0.52, 0.55, 0.55, 0.49, 0.50, 0.54, 0.53,
                0.56, 0.55, 0.60, 0.58, 0.62, 0.60, 0.66, 0.62, 0.70, 0.65, 0.74, 0.68, 0.66, 0.62, 0.58, 0.55, 0.48, 0.42, 0.45, 0.48,
                0.70, 1.02, 0.46, 0.50, 0.45, 0.48, 0.52, 0.55, 0.58, 0.60, 0.62, 0.62, 0.66, 0.65, 0.58, 0.60, 0.64, 0.62, 0.66, 0.65,
                0.66, 0.68, 0.70]
ind_yellow_2 = [0.87, 0.88, 0.86, 0.88, 0.88, 0.86, 0.87, 0.89, 0.86, 0.87, 0.88, 0.86, 0.87,
                0.89, 0.88, 0.86, 0.87, 0.85, 0.86, 0.88, 0.88, 0.90, 0.87, 0.85, 0.86, 0.84, 0.85, 0.87, 0.86, 0.88, 0.87, 0.85, 0.86,
                0.84, 0.85, 0.87, 0.86, 0.88, 0.87, 0.85, 0.86, 0.84, 0.85, 0.83, 0.84, 0.86, 0.86, 0.84, 0.85, 0.87, 0.86, 0.88, 0.87,
                0.85, 0.86, 0.88, 0.87, 0.89, 0.88, 0.91, 0.90, 0.93, 0.91, 0.90, 0.92, 0.92, 0.90, 0.88, 0.88, 0.86, 0.86, 0.88, 0.90,
                0.94, 0.92, 0.88, 0.88, 0.85, 0.86, 0.88, 0.87, 0.90, 0.88, 0.91, 0.89, 0.94, 0.93, 0.91, 0.90, 0.87, 0.88, 0.86, 0.87,
                0.88, 0.87, 0.86]
ind_yellow_3 = [0.78, 0.81, 0.80, 0.77, 0.76, 0.72, 0.74, 0.70, 0.72, 0.77, 0.75, 0.80, 0.78,
                0.73, 0.76, 0.71, 0.74, 0.68, 0.72, 0.67, 0.70, 0.75, 0.73, 0.79, 0.76, 0.80, 0.78, 0.72, 0.75, 0.70, 0.73, 0.78, 0.76,
                0.71, 0.74, 0.69, 0.72, 0.67, 0.70, 0.75, 0.73, 0.78, 0.76, 0.71, 0.74, 0.69, 0.72, 0.77, 0.75, 0.80, 0.77, 0.72, 0.75,
                0.70, 0.73, 0.67, 0.70, 0.62, 0.66, 0.65, 0.68, 0.74, 0.72, 0.78, 0.75, 0.80, 0.78, 0.73, 0.76, 0.68, 0.72, 0.66, 0.70,
                0.72, 0.65, 0.56, 0.60, 0.64, 0.68, 0.74, 0.72, 0.77, 0.74, 0.79, 0.76, 0.70, 0.73, 0.66, 0.70, 0.75, 0.72, 0.77, 0.74,
                0.79, 0.76, 0.75]
ind_yellow_4 = [0.80, 0.83, 0.82, 0.85, 0.84, 0.80, 0.82, 0.78, 0.80, 0.84, 0.83, 0.87, 0.85,
                0.81, 0.84, 0.80, 0.82, 0.85, 0.83, 0.86, 0.85, 0.80, 0.82, 0.78, 0.80, 0.83, 0.82, 0.86, 0.84, 0.80, 0.83, 0.79, 0.81,
                0.77, 0.80, 0.84, 0.82, 0.86, 0.84, 0.80, 0.82, 0.78, 0.80, 0.75, 0.78, 0.82, 0.80, 0.84, 0.82, 0.79, 0.81, 0.77, 0.80,
                0.75, 0.78, 0.82, 0.80, 0.84, 0.82, 0.86, 0.84, 0.88, 0.86, 0.91, 0.88, 0.86, 0.85, 0.78, 0.80, 0.72, 0.76, 0.80, 0.82,
                0.92, 0.88, 0.76, 0.80, 0.75, 0.78, 0.82, 0.80, 0.84, 0.82, 0.86, 0.84, 0.88, 0.86, 0.82, 0.83, 0.78, 0.80, 0.84, 0.82,
                0.86, 0.84, 0.83]
ind_gray_1 = [0.74, 0.78, 0.72, 0.76, 0.70, 0.66, 0.75, 0.80, 0.78, 0.70, 0.72, 0.60, 0.65,
              0.74, 0.70, 0.78, 0.75, 0.68, 0.72, 0.65, 0.68, 0.78, 0.74, 0.80, 0.76, 0.70, 0.73, 0.66, 0.70, 0.78, 0.74, 0.80, 0.76,
              0.70, 0.73, 0.66, 0.70, 0.76, 0.72, 0.78, 0.75, 0.68, 0.70, 0.62, 0.66, 0.76, 0.72, 0.78, 0.74, 0.70, 0.73, 0.78, 0.75,
              0.70, 0.74, 0.76, 0.72, 0.66, 0.70, 0.77, 0.73, 0.80, 0.76, 0.70, 0.74, 0.66, 0.72, 0.68, 0.70, 0.78, 0.74, 0.82, 0.78,
              0.56, 0.60, 0.78, 0.72, 0.80, 0.76, 0.70, 0.74, 0.68, 0.72, 0.78, 0.75, 0.70, 0.74, 0.66, 0.72, 0.64, 0.70, 0.76, 0.74,
              0.78, 0.76, 0.75]
ind_gray_2 = [0.70, 0.66, 0.68, 0.62, 0.65, 0.58, 0.62, 0.56, 0.60, 0.66, 0.64, 0.70, 0.68,
              0.62, 0.66, 0.72, 0.70, 0.76, 0.72, 0.64, 0.68, 0.62, 0.66, 0.72, 0.70, 0.76, 0.73, 0.68, 0.72, 0.66, 0.70, 0.76, 0.74,
              0.80, 0.76, 0.70, 0.72, 0.64, 0.68, 0.60, 0.64, 0.68, 0.66, 0.74, 0.70, 0.76, 0.72, 0.66, 0.70, 0.64, 0.68, 0.74, 0.72,
              0.78, 0.74, 0.70, 0.72, 0.66, 0.70, 0.76, 0.72, 0.78, 0.74, 0.80, 0.76, 0.70, 0.73, 0.66, 0.70, 0.74, 0.72, 0.78, 0.75,
              0.58, 0.56, 0.66, 0.70, 0.78, 0.74, 0.80, 0.76, 0.70, 0.74, 0.68, 0.72, 0.66, 0.70, 0.78, 0.74, 0.80, 0.76, 0.70, 0.73,
              0.72, 0.74, 0.75]
ind_gray_3 = [0.84, 0.86, 0.85, 0.87, 0.86, 0.90, 0.88, 0.83, 0.85, 0.80, 0.82, 0.86, 0.84,
              0.80, 0.83, 0.80, 0.82, 0.86, 0.84, 0.78, 0.80, 0.76, 0.78, 0.82, 0.80, 0.85, 0.82, 0.86, 0.84, 0.80, 0.83, 0.78, 0.81,
              0.77, 0.80, 0.84, 0.82, 0.78, 0.80, 0.75, 0.78, 0.82, 0.80, 0.84, 0.82, 0.78, 0.81, 0.77, 0.80, 0.84, 0.82, 0.86, 0.83,
              0.79, 0.82, 0.78, 0.80, 0.75, 0.78, 0.82, 0.80, 0.84, 0.82, 0.79, 0.81, 0.77, 0.80, 0.75, 0.78, 0.82, 0.80, 0.85, 0.82,
              0.62, 0.66, 0.76, 0.80, 0.84, 0.82, 0.86, 0.84, 0.80, 0.83, 0.79, 0.82, 0.86, 0.84, 0.88, 0.85, 0.89, 0.86, 0.82, 0.84,
              0.80, 0.82, 0.80]
ind_gray_4 = [0.68, 0.64, 0.66, 0.62, 0.64, 0.58, 0.66, 0.62, 0.58, 0.55, 0.60, 0.64, 0.62,
              0.68, 0.64, 0.60, 0.62, 0.68, 0.65, 0.70, 0.66, 0.60, 0.63, 0.57, 0.60, 0.66, 0.64, 0.70, 0.66, 0.72, 0.68, 0.74, 0.70,
              0.76, 0.72, 0.70, 0.74, 0.68, 0.71, 0.64, 0.68, 0.72, 0.70, 0.76, 0.73, 0.78, 0.75, 0.70, 0.74, 0.68, 0.72, 0.78, 0.76,
              0.80, 0.78, 0.74, 0.76, 0.70, 0.74, 0.68, 0.72, 0.66, 0.70, 0.74, 0.72, 0.78, 0.75, 0.70, 0.74, 0.68, 0.72, 0.80, 0.77,
              0.54, 0.58, 0.76, 0.72, 0.78, 0.74, 0.68, 0.72, 0.66, 0.70, 0.76, 0.74, 0.80, 0.76, 0.70, 0.72, 0.66, 0.70, 0.78, 0.74,
              0.80, 0.76, 0.78]

industry_by_color = {
    blue: [ind_blue_1, ind_blue_2, ind_blue_3, ind_blue_4, ind_blue_5],
    green: [ind_green_1, ind_green_2, ind_green_3, ind_green_4, ind_green_5],
    red: [ind_red_1, ind_red_2, ind_red_3, ind_red_4],
    cyan: [ind_cyan_1, ind_cyan_2, ind_cyan_3, ind_cyan_4],
    magenta: [ind_magenta_1, ind_magenta_2, ind_magenta_3, ind_magenta_4],
    yellow: [ind_yellow_1, ind_yellow_2, ind_yellow_3, ind_yellow_4],
    gray: [ind_gray_1, ind_gray_2, ind_gray_3, ind_gray_4],
}
size_series = [size_1, size_2, size_3, size_4, size_5, size_6, size_7, size_8, size_9, size_10]
bm_series = [bm_1, bm_2, bm_3, bm_4, bm_5, bm_6, bm_7, bm_8, bm_9, bm_10]
mom_series = [mom_1, mom_2, mom_3, mom_4, mom_5, mom_6, mom_7, mom_8, mom_9, mom_10]

# industry traces in MATLAB colour-cycle order
industry_series = []
used = {c: 0 for c in color_cycle}
for k in range(30):
    c = color_cycle[k % 7]
    industry_series.append((industry_by_color[c][used[c]], c))
    used[c] += 1

n_obs = len(half_year_dates)
for name, group in [("size", size_series), ("bm", bm_series), ("mom", mom_series),
                    ("industry", [s for s, _ in industry_series])]:
    for i, s in enumerate(group):
        if len(s) != n_obs:
            raise ValueError(f"{name} series {i} has {len(s)} values, expected {n_obs}")

# ---------------- figure ----------------
W, H = 1119, 842
fig = go.Figure()

def add_line(y, color, xa, ya):
    fig.add_trace(go.Scatter(x=half_year_dates, y=y, mode="lines", line=dict(color=color, width=1),
                             xaxis=xa, yaxis=ya, showlegend=False, hoverinfo="skip"))

for s, c in industry_series:
    add_line(s, c, "x", "y")
for i, s in enumerate(size_series):
    add_line(s, color_cycle[i % 7], "x2", "y2")
for i, s in enumerate(bm_series):
    add_line(s, color_cycle[i % 7], "x3", "y3")
for i, s in enumerate(mom_series):
    add_line(s, color_cycle[i % 7], "x4", "y4")

def px_x(a, b):
    return [a / W, b / W]

def px_y(top, bottom):
    return [1 - bottom / H, 1 - top / H]

tick_font = dict(family="Liberation Sans, Arial, sans-serif", size=12.5, color="black")
common = dict(ticks="inside", ticklen=4, tickwidth=1, tickcolor="black", showline=True, linecolor="black",
              linewidth=1, mirror="ticks", showgrid=False, zeroline=False, tickfont=tick_font, automargin=False)

def xcfg(domain, anchor):
    return dict(domain=domain, anchor=anchor, type="date", range=["1963-07-01", "2010-12-01"],
                tickmode="array", tickvals=x_tick_dates, ticktext=x_tick_labels, **common)

def ycfg(domain, anchor, rng, dtick):
    return dict(domain=domain, anchor=anchor, range=rng, tick0=rng[0], dtick=dtick, **common)

left_x, right_x = px_x(34, 449.3), px_x(688.7, 1104.3)
fig.update_layout(
    xaxis=xcfg(left_x, "y"), yaxis=ycfg(px_y(65.3, 392.7), "x", [0.1, 1.1], 0.1),
    xaxis2=xcfg(right_x, "y2"), yaxis2=ycfg(px_y(62.3, 390.3), "x2", [0.55, 1.0], 0.05),
    xaxis3=xcfg(left_x, "y3"), yaxis3=ycfg(px_y(491.3, 819.3), "x3", [0.65, 1.15], 0.05),
    xaxis4=xcfg(right_x, "y4"), yaxis4=ycfg(px_y(491.7, 819.3), "x4", [0.5, 1.2], 0.1),
)

# reference line at 1
for xa, ya in [("x", "y"), ("x3", "y3"), ("x4", "y4")]:
    fig.add_shape(type="line", xref=f"{xa} domain", yref=ya, x0=0, x1=1, y0=1, y1=1,
                  line=dict(color="black", width=1), layer="below")

title_pos = [(231.7, 19), (886.5, 21.5), (232, 451), (886.7, 451)]
for t, (tx, ty) in zip(panel_titles, title_pos):
    fig.add_annotation(text=t, x=tx / W, y=1 - ty / H, xref="paper", yref="paper", showarrow=False,
                       xanchor="center", yanchor="middle",
                       font=dict(family="Liberation Serif, Times New Roman, serif", size=26, color="black"))

fig.update_layout(width=W, height=H, margin=dict(l=0, r=0, t=0, b=0, autoexpand=False),
                  paper_bgcolor="white", plot_bgcolor="white", showlegend=False)

fig.write_html("out.html", config={"displayModeBar": False},
               post_script="document.body.style.margin='0';document.body.style.overflow='hidden';")
